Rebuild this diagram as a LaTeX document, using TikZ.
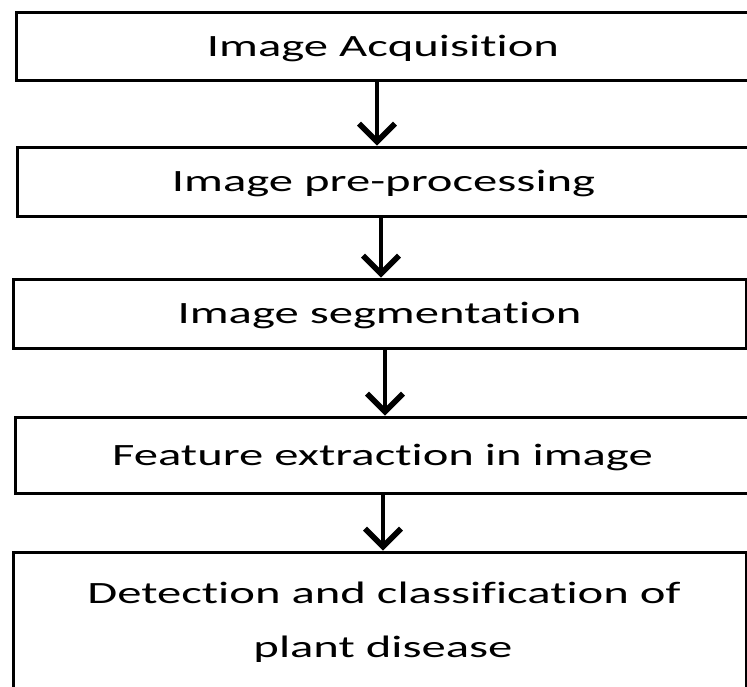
\documentclass[tikz,border=0pt]{standalone}
\usepackage{fontspec}
\setmainfont[FakeStretch=1.57,RawFeature={-liga}]{Carlito}
\usetikzlibrary{arrows.meta}
\tikzset{
  stagebox/.style={draw=black, line width=3pt, fill=white, inner sep=0pt,
    font=\fontsize{31}{37}\selectfont, text height=20pt, text depth=0pt},
  textline/.style={inner sep=0pt, font=\fontsize{31}{37}\selectfont,
    text height=20pt, text depth=0pt},
  flow/.style={line width=4.5pt,
    -{Straight Barb[length=18pt,width=36pt,line width=5.5pt]}}
}
\begin{document}
\begin{tikzpicture}[x=1pt,y=-1pt]
\useasboundingbox (0,0) rectangle (747,686);
% processing stages, top to bottom
\node[stagebox, minimum width=734pt, minimum height=68pt] (b1) at (383,46) {Image Acquisition};
\node[stagebox, minimum width=733pt, minimum height=69pt] (b2) at (383.5,181.5) {Image pre-processing};
\node[stagebox, minimum width=733pt, minimum height=69pt] (b3) at (379.5,313.5) {Image segmentation};
\node[stagebox, minimum width=735pt, minimum height=76pt] (b4) at (382.5,455) {Feature extraction in image};
\node[stagebox, minimum width=733pt, minimum height=153pt] (b5) at (379.5,628.5) {};
\node[textline] (t5a) at (384,593) {Detection and classification of};
\node[textline] (t5b) at (383,647) {plant disease};
% arrows between stages
\draw[flow] ([xshift=-6pt]b1.south) -- ([xshift=-6.5pt]b2.north);
\draw[flow] ([xshift=-2.5pt]b2.south) -- ([xshift=1.5pt]b3.north);
\draw[flow] ([xshift=5.5pt]b3.south) -- ([xshift=2.5pt]b4.north);
\draw[flow] ([xshift=0.5pt]b4.south) -- ([xshift=3.5pt]b5.north);
\end{tikzpicture}
\end{document}
